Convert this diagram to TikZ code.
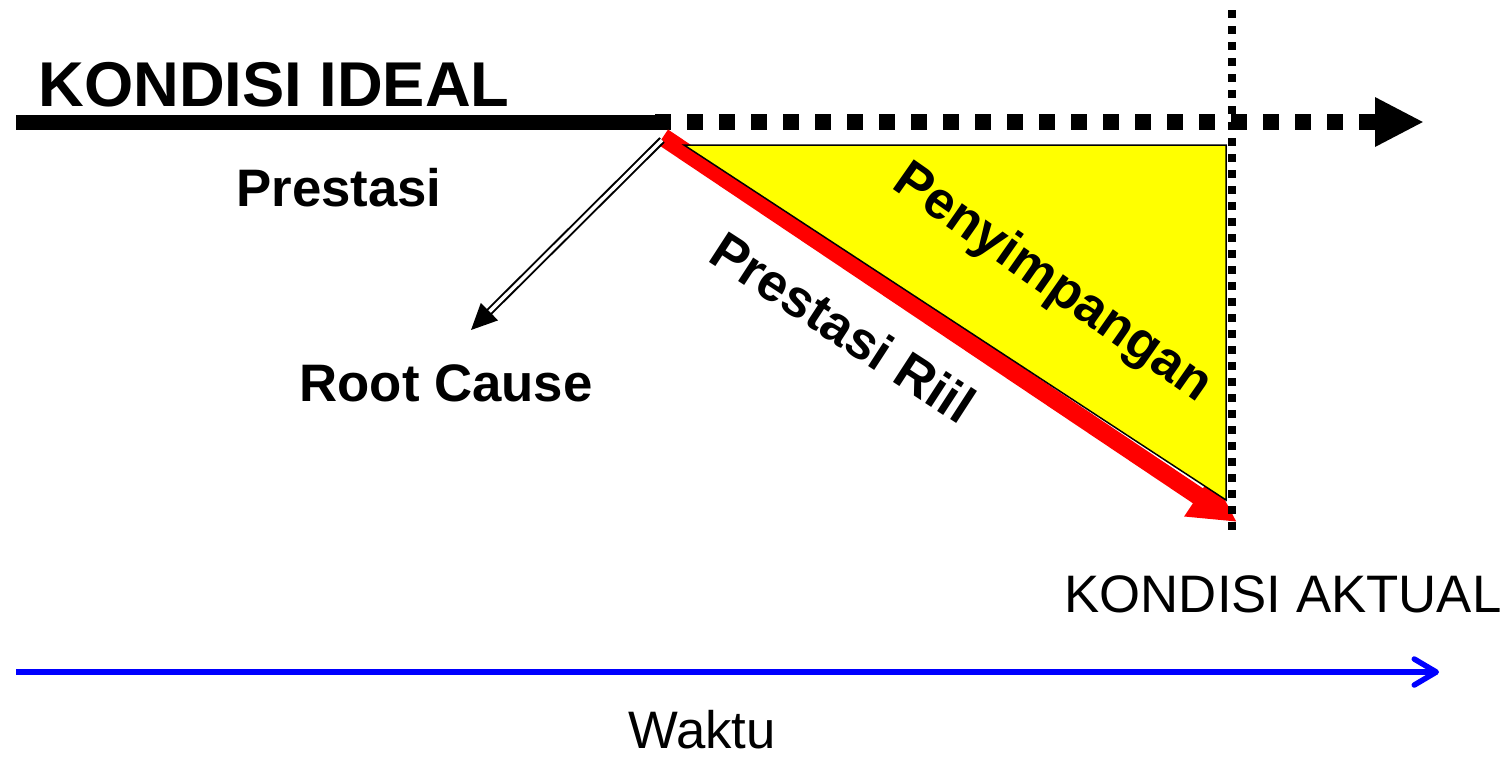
\documentclass[tikz,border=0pt]{standalone}
\usepackage{fontspec}
\setmainfont{Liberation Sans}
\usetikzlibrary{arrows.meta}
\definecolor{gapyellow}{RGB}{255,255,0}
\definecolor{riilred}{RGB}{255,0,0}
\definecolor{timeblue}{RGB}{0,0,255}
\begin{document}
\begin{tikzpicture}[x=0.01cm,y=-0.01cm,
  lbl/.style={inner sep=0pt, font=\fontsize{15}{18}\selectfont\bfseries},
  plainlbl/.style={inner sep=0pt, font=\fontsize{15}{18}\selectfont},
  ideal/.style={line width=0.15cm},
  idealdots/.style={line width=0.16cm, dash pattern=on 0.16cm off 0.16cm, -{Triangle[length=0.49cm,width=0.46cm]}},
  riilarrow/.style={riilred, line width=0.18cm, -{Triangle[length=0.47cm,width=0.46cm]}},
  gap/.style={fill=gapyellow, draw=black, line width=0.015cm},
  nowline/.style={line width=0.08cm, dash pattern=on 0.08cm off 0.08cm},
  causearrow/.style={double, line width=0.02cm, double distance=0.035cm, -{Triangle[length=0.26cm,width=0.24cm]}},
  timearrow/.style={timeblue, line width=0.055cm, -{Straight Barb[length=0.22cm,width=0.26cm,round]}}
]
\useasboundingbox (0,0) rectangle (1507,756);
\coordinate (s) at (16,122);
\coordinate (j) at (660,122);
\coordinate (jd) at (655,122);
\coordinate (e) at (1424,122);
\coordinate (rs) at (663,137);
\coordinate (re) at (1237,522);
\coordinate (t1) at (684,145);
\coordinate (t2) at (1226,145);
\coordinate (t3) at (1226,500);
\coordinate (v1) at (1232,10);
\coordinate (v2) at (1232,531);
\coordinate (cs) at (662,140);
\coordinate (ce) at (471,330);
\coordinate (ws) at (16,672);
\coordinate (we) at (1439,672);

\draw[ideal] (s) -- (j);
\draw[idealdots] (jd) -- (e);
\draw[riilarrow] (rs) -- (re);
\draw[gap] (t1) -- (t2) -- (t3) -- cycle;
\draw[nowline] (v1) -- (v2);
\draw[causearrow] (cs) -- (ce);
\draw[timearrow] (ws) -- (we);

\node[lbl, font=\fontsize{18}{21}\selectfont\bfseries, anchor=base] (kideal) at (274,106) {KONDISI IDEAL};
\node[lbl, anchor=base] (prest) at (339,206) {Prestasi};
\node[lbl, anchor=base] (root) at (446,401) {Root Cause};
\node[lbl, rotate=-35] (peny) at (1052,284) {Penyimpangan};
\node[lbl, rotate=-33] (riil) at (843,327) {Prestasi Riil};
\node[plainlbl, anchor=base] (aktual) at (1283,612) {KONDISI AKTUAL};
\node[plainlbl, anchor=base] (waktu) at (702,748) {Waktu};
\end{tikzpicture}
\end{document}
